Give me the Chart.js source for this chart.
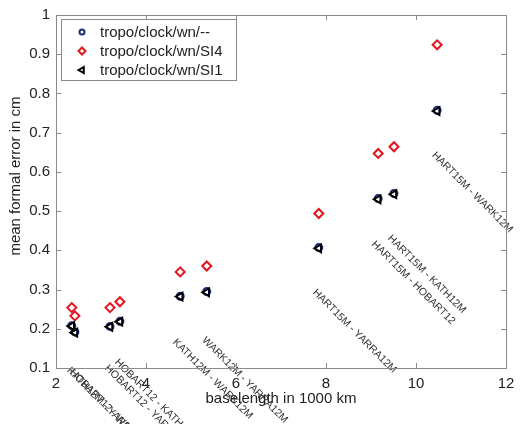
<!DOCTYPE html>
<html>
<head>
<meta charset="utf-8">
<script src="https://cdn.jsdelivr.net/npm/chart.js@4"></script>
<style>
  html, body { margin: 0; padding: 0; background: #fff; }
  #wrap { width: 526px; height: 424px; position: relative; }
</style>
</head>
<body>
<div id="wrap"><canvas id="chart"></canvas></div>
<script>
// baseline lengths (1000 km) and mean formal errors (cm)
const baselength = [2.35, 2.42, 3.20, 3.42, 4.76, 5.35, 7.84, 9.16, 9.51, 10.47];
const errNone = [0.208, 0.192, 0.206, 0.219, 0.283, 0.295, 0.407, 0.532, 0.545, 0.757];
const errSI4 = [0.254, 0.233, 0.254, 0.269, 0.345, 0.360, 0.494, 0.647, 0.664, 0.924];
const errSI1 = [0.207, 0.190, 0.205, 0.218, 0.282, 0.293, 0.405, 0.530, 0.543, 0.755];
const seriesNames = ["tropo/clock/wn/--", "tropo/clock/wn/SI4", "tropo/clock/wn/SI1"];

// baseline labels and where they start (data coords)
const baselineNames = [
  "KATH12M - YARRA12M", "HOBART12 - WARK12M", "HOBART12 - YARRA12M", "HOBART12 - KATH12M",
  "KATH12M - WARK12M", "WARK12M - YARRA12M", "HART15M - YARRA12M", "HART15M - HOBART12",
  "HART15M - KATH12M", "HART15M - WARK12M"
];
const labelX = [2.36, 2.42, 3.20, 3.42, 4.71, 5.36, 7.82, 9.13, 9.49, 10.47];
const labelY = [0.107, 0.102, 0.113, 0.128, 0.179, 0.184, 0.306, 0.429, 0.444, 0.656];

const xTicks = [2, 4, 6, 8, 10, 12];
const yTicks = [0.1, 0.2, 0.3, 0.4, 0.5, 0.6, 0.7, 0.8, 0.9, 1];

const FONT = "'Liberation Sans', Arial, sans-serif";

function pts(ys) {
  return baselength.map((x, i) => ({ x: x, y: ys[i] }));
}

const styles = [
  { pointStyle: "circle", radius: 3.5, rotation: 0, color: "#1c2a7a" },
  { pointStyle: "rectRot", radius: 4.5, rotation: 0, color: "#e3141e" },
  { pointStyle: "triangle", radius: 4.5, rotation: -90, color: "#000000" }
];

// boxes, inward ticks, titles, baseline labels and legend
const decorPlugin = {
  id: "decor",
  afterDraw(chart) {
    const ctx = chart.ctx;
    const a = chart.chartArea;
    const xs = chart.scales.x, ys = chart.scales.y;
    ctx.save();

    // baseline labels
    ctx.fillStyle = "#333";
    ctx.font = "10.5px " + FONT;
    ctx.textBaseline = "top";
    ctx.textAlign = "left";
    baselineNames.forEach((t, i) => {
      ctx.save();
      ctx.translate(xs.getPixelForValue(labelX[i]), ys.getPixelForValue(labelY[i]));
      ctx.rotate(Math.PI / 4);
      ctx.fillText(t, 0, 0);
      ctx.restore();
    });

    // frame and ticks
    ctx.strokeStyle = "#8a8a8a";
    ctx.lineWidth = 1;
    ctx.strokeRect(a.left + 0.5, a.top + 0.5, a.right - a.left, a.bottom - a.top);
    ctx.beginPath();
    xTicks.forEach(v => {
      const px = Math.round(xs.getPixelForValue(v)) + 0.5;
      ctx.moveTo(px, a.bottom); ctx.lineTo(px, a.bottom - 5);
      ctx.moveTo(px, a.top); ctx.lineTo(px, a.top + 5);
    });
    yTicks.forEach(v => {
      const py = Math.round(ys.getPixelForValue(v)) + 0.5;
      ctx.moveTo(a.left, py); ctx.lineTo(a.left + 5, py);
      ctx.moveTo(a.right, py); ctx.lineTo(a.right - 5, py);
    });
    ctx.stroke();

    // axis titles
    ctx.fillStyle = "#222";
    ctx.font = "15px " + FONT;
    ctx.textAlign = "center";
    ctx.textBaseline = "middle";
    ctx.fillText("baselength in 1000 km", 281, 399);
    ctx.save();
    ctx.translate(16, 176);
    ctx.rotate(-Math.PI / 2);
    ctx.fillText("mean formal error in cm", 0, 0);
    ctx.restore();

    // legend
    const lx = a.left + 5, ly = a.top + 4, lw = 175, lh = 61;
    ctx.fillStyle = "#fff";
    ctx.fillRect(lx, ly, lw, lh);
    ctx.strokeStyle = "#8a8a8a";
    ctx.strokeRect(lx + 0.5, ly + 0.5, lw, lh);
    ctx.font = "15px " + FONT;
    ctx.textAlign = "left";
    seriesNames.forEach((name, i) => {
      const y = ly + 13 + i * 19;
      const s = styles[i];
      ctx.strokeStyle = s.color;
      ctx.fillStyle = "rgba(0,0,0,0)";
      ctx.lineWidth = 2;
      Chart.helpers.drawPoint(ctx, { pointStyle: s.pointStyle, radius: s.radius - 1, rotation: s.rotation, borderWidth: 2 }, lx + 21, y);
      ctx.fillStyle = "#222";
      ctx.fillText(name, lx + 39, y + 1);
    });
    ctx.restore();
  }
};

const datasets = [errNone, errSI4, errSI1].map((ys, i) => ({
  label: seriesNames[i],
  data: pts(ys),
  pointStyle: styles[i].pointStyle,
  pointRadius: styles[i].radius,
  pointRotation: styles[i].rotation,
  pointBorderWidth: 2,
  pointBorderColor: styles[i].color,
  pointBackgroundColor: "rgba(255,255,255,0)",
  showLine: false,
  order: [2, 1, 0][i]
}));

new Chart(document.getElementById("chart"), {
  type: "scatter",
  data: { datasets: datasets },
  options: {
    responsive: true,
    maintainAspectRatio: false,
    animation: false,
    layout: { padding: { left: 0, top: 15, right: 20, bottom: 0 } },
    plugins: { legend: { display: false }, tooltip: { enabled: false } },
    scales: {
      x: {
        type: "linear",
        min: 2, max: 12,
        afterFit(s) { s.height = 56; },
        afterBuildTicks(s) { s.ticks = xTicks.map(v => ({ value: v })); },
        grid: { display: false, drawTicks: false },
        border: { display: false },
        ticks: { padding: 7, color: "#222", font: { family: FONT, size: 15 } }
      },
      y: {
        type: "linear",
        min: 0.1, max: 1,
        afterFit(s) { s.width = 56; },
        afterBuildTicks(s) { s.ticks = yTicks.map(v => ({ value: v })); },
        grid: { display: false, drawTicks: false },
        border: { display: false },
        ticks: {
          padding: 6, color: "#222", font: { family: FONT, size: 15 },
          callback: v => String(Math.round(v * 10) / 10)
        }
      }
    }
  },
  plugins: [decorPlugin]
});
</script>
</body>
</html>
